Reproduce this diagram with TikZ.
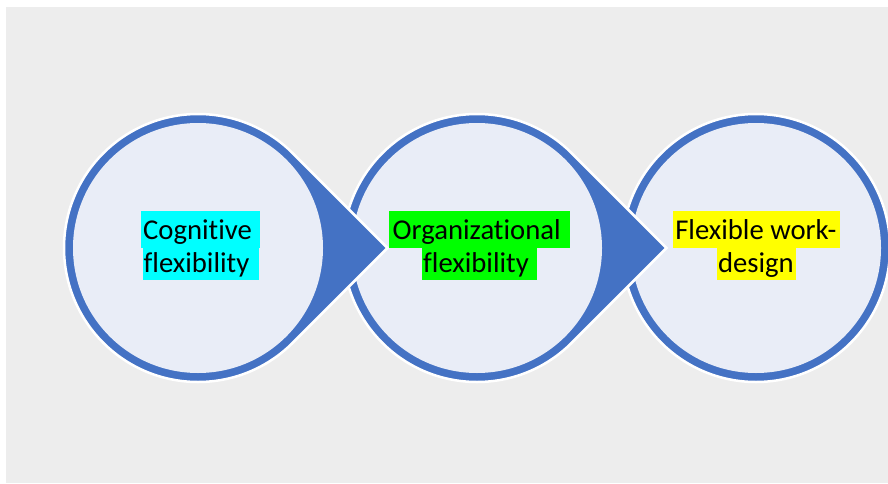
\documentclass[tikz,border=0pt]{standalone}
\usepackage{fontspec}
\setmainfont{Carlito}[Ligatures={NoCommon,NoContextual}]
\definecolor{bggray}{HTML}{EDEDED}
\definecolor{ringblue}{HTML}{4472C4}
\definecolor{innerfill}{HTML}{E9EDF7}
\definecolor{hlcyan}{HTML}{00FFFF}
\definecolor{hlgreen}{HTML}{00FF00}
\definecolor{hlyellow}{HTML}{FFFF00}
\tikzset{
  lbl/.style={anchor=base, inner sep=0pt, text=black, font=\fontsize{28.7}{33}\selectfont},
  shapebody/.style={fill=ringblue, draw=white, line width=2.5pt, line join=miter},
}
\begin{document}
\begin{tikzpicture}[x=1pt,y=1pt]
\useasboundingbox (0,0) rectangle (888,483);
\clip (0,0) rectangle (888,483);
\fill[white] (0,0) rectangle (888,483);
\fill[bggray] (6,0) rectangle (888,476);
% last circle (no arrow)
\path[shapebody] (756,235) circle[radius=134];
\fill[innerfill] (756,235) circle[radius=125];
% circular arrow shapes, drawn right to left so each arrow lies on the next circle
\foreach \cx in {477,198} {
  \path[shapebody] ([shift={(\cx,235)}]45:134) arc[start angle=45, end angle=315, radius=134]
     -- (\cx+189.5,235) -- cycle;
  \fill[innerfill] (\cx,235) circle[radius=125];
}
% highlights
\fill[hlcyan] (141,235) rectangle (260,272);
\fill[hlcyan] (143,203) rectangle (259,235);
\fill[hlgreen] (389,235) rectangle (570,272);
\fill[hlgreen] (421.7,203) rectangle (537,235);
\fill[hlyellow] (672.7,235) rectangle (840,272);
\fill[hlyellow] (717,203) rectangle (796,235);
% texts
\node[lbl] (t1a) at (197.5,244) {Cognitive};
\node[lbl] (t1b) at (196.5,210.3) {flexibility};
\node[lbl] (t2a) at (476.7,244) {Organizational};
\node[lbl] (t2b) at (476,210.3) {flexibility};
\node[lbl] (t3a) at (755.9,244) {Flexible work-};
\node[lbl] (t3b) at (755.9,210.3) {design};
\end{tikzpicture}
\end{document}
